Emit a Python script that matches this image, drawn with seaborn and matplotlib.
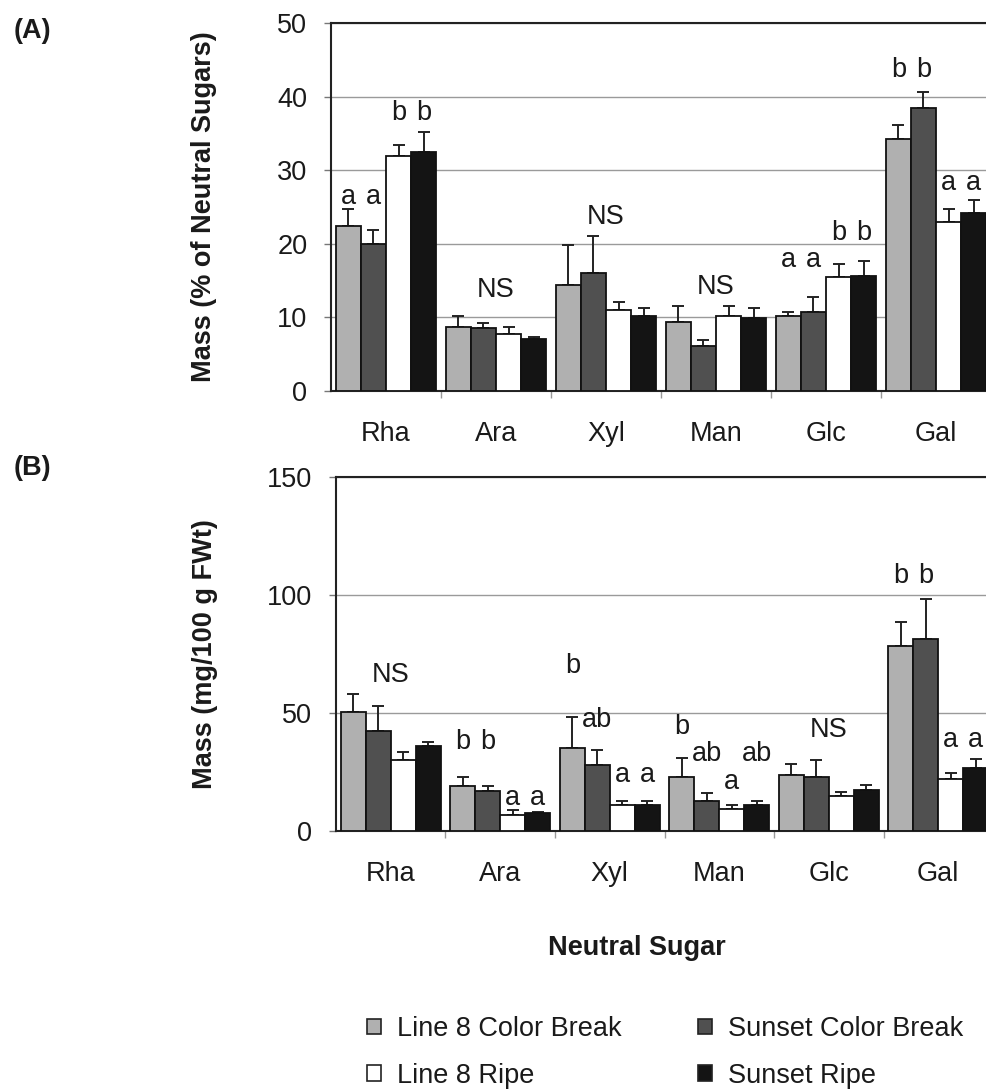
import numpy as np
import pandas as pd
import matplotlib
matplotlib.use("Agg")
import matplotlib.pyplot as plt
from matplotlib.patches import Patch
from matplotlib.container import BarContainer
import seaborn as sns

sns.set_style("white")
plt.rcParams['font.family'] = ['Liberation Sans', 'DejaVu Sans']

# ---------------- data ----------------
sugars = ["Rha", "Ara", "Xyl", "Man", "Glc", "Gal"]
series = ["Line 8 Color Break", "Sunset Color Break", "Line 8 Ripe", "Sunset Ripe"]

# Panel A: % of neutral sugars
l8cb_a = [22.4, 8.7, 14.4, 9.4, 10.1, 34.3]
scb_a = [19.9, 8.5, 16.0, 6.1, 10.7, 38.5]
l8r_a = [31.9, 7.7, 11.0, 10.1, 15.5, 23.0]
sr_a = [32.5, 7.1, 10.2, 9.9, 15.6, 24.2]
l8cb_a_err = [2.3, 1.5, 5.4, 2.1, 0.6, 1.8]
scb_a_err = [2.0, 0.7, 5.1, 0.8, 2.0, 2.2]
l8r_a_err = [1.5, 1.0, 1.05, 1.4, 1.8, 1.7]
sr_a_err = [2.7, 0.2, 1.0, 1.3, 2.0, 1.8]

# Panel B: mg/100 g FWt
l8cb_b = [50.5, 18.9, 35.1, 23.0, 23.8, 78.2]
scb_b = [42.4, 16.8, 28.0, 12.5, 22.8, 81.4]
l8r_b = [30.2, 6.8, 10.7, 9.2, 14.9, 22.1]
sr_b = [36.0, 7.4, 11.0, 11.0, 17.4, 26.8]
l8cb_b_err = [7.4, 4.1, 13.3, 8.0, 4.4, 10.3]
scb_b_err = [10.7, 2.1, 6.1, 3.4, 7.4, 16.8]
l8r_b_err = [3.2, 2.0, 1.8, 1.8, 1.7, 2.4]
sr_b_err = [1.7, 0.5, 1.5, 1.5, 2.2, 3.8]

# significance letters: (sugar, series index or None for group centre, text, y)
letters_a = [
    ("Rha", 0, "a", 26.4), ("Rha", 1, "a", 26.4), ("Rha", 2, "b", 37.8), ("Rha", 3, "b", 37.8),
    ("Ara", None, "NS", 13.7),
    ("Xyl", None, "NS", 23.7),
    ("Man", None, "NS", 14.1),
    ("Glc", 0, "a", 17.8), ("Glc", 1, "a", 17.8), ("Glc", 2, "b", 21.5), ("Glc", 3, "b", 21.5),
    ("Gal", 0, "b", 43.6), ("Gal", 1, "b", 43.6), ("Gal", 2, "a", 28.3), ("Gal", 3, "a", 28.3),
]
letters_b = [
    ("Rha", None, "NS", 66.2),
    ("Ara", 0, "b", 37.7), ("Ara", 1, "b", 37.7), ("Ara", 2, "a", 14.0), ("Ara", 3, "a", 14.0),
    ("Xyl", 0, "b", 70.0), ("Xyl", 1, "ab", 47.0), ("Xyl", 2, "a", 23.5), ("Xyl", 3, "a", 23.5),
    ("Man", 0, "b", 44.1), ("Man", 1, "ab", 32.4), ("Man", 2, "a", 20.6), ("Man", 3, "ab", 32.4),
    ("Glc", None, "NS", 42.7),
    ("Gal", 0, "b", 108.0), ("Gal", 1, "b", 108.0), ("Gal", 2, "a", 38.4), ("Gal", 3, "a", 38.4),
]

colors = ["#b0b0b0", "#505050", "#ffffff", "#141414"]
FS = 19.5
TXT = "#1a1a1a"


def make_df(vals, errs):
    rows = []
    for s, v_list, e_list in zip(series, vals, errs):
        for sug, v, e in zip(sugars, v_list, e_list):
            rows.append({"sugar": sug, "series": s, "value": v, "err": e})
    return pd.DataFrame(rows)


df_a = make_df([l8cb_a, scb_a, l8r_a, sr_a], [l8cb_a_err, scb_a_err, l8r_a_err, sr_a_err])
df_b = make_df([l8cb_b, scb_b, l8r_b, sr_b], [l8cb_b_err, scb_b_err, l8r_b_err, sr_b_err])

fig = plt.figure(figsize=(9.87, 10.92), dpi=100)
W, H = 987.0, 1092.0


def px_axes(left, right, top, bottom):
    return fig.add_axes([left / W, 1 - bottom / H, (right - left) / W, (bottom - top) / H])


ax_a = px_axes(331, 991, 23.3, 390.7)
ax_b = px_axes(336, 993, 477.3, 830.7)


def draw(ax, df, ymax, step, ylabel, letters):
    sns.barplot(data=df, x="sugar", y="value", hue="series", order=sugars,
                hue_order=series, palette=colors, edgecolor="#111111", linewidth=1.3,
                width=0.91, gap=0, errorbar=None, legend=False, ax=ax, zorder=3)
    bar_conts = [c for c in ax.containers if isinstance(c, BarContainer)]
    centers = {}
    for hi, cont in enumerate(bar_conts):
        for si, p in enumerate(cont.patches):
            xc = p.get_x() + p.get_width() / 2
            h = p.get_height()
            centers[(sugars[si], hi)] = xc
            sub = df[(df.series == series[hi]) & (df.sugar == sugars[si])]
            e = float(sub["err"].iloc[0])
            ax.errorbar([xc], [h], yerr=[[0], [e]], fmt="none", ecolor="#222222",
                        elinewidth=1.4, capsize=4.5, capthick=1.4, zorder=2)
    for sug, hi, txt, y in letters:
        if hi is None:
            x = sugars.index(sug)
        else:
            x = centers[(sug, hi)]
        ax.text(x, y, txt, ha="center", va="center", fontsize=FS, color=TXT, zorder=5)

    ax.set_xlim(-0.5, 5.5)
    ax.set_ylim(0, ymax)
    ax.set_yticks(np.arange(0, ymax + 1, step))
    ax.yaxis.grid(True, color="#9a9a9a", linewidth=1.0, zorder=0)
    ax.set_axisbelow(True)
    for side in ["left", "top", "bottom"]:
        ax.spines[side].set_visible(True)
        ax.spines[side].set_color("#222222")
        ax.spines[side].set_linewidth(1.5)
    ax.spines["right"].set_visible(False)
    ax.set_xlabel("")
    ax.set_ylabel(ylabel, fontsize=FS, fontweight="bold", color=TXT)
    ax.tick_params(axis="y", which="major", direction="out", length=5, width=1,
                   color="#777777", pad=12, labelsize=FS, labelcolor=TXT, left=True)
    ax.tick_params(axis="x", which="major", length=0, pad=22, labelsize=FS, labelcolor=TXT)
    ax.set_xticks(np.arange(0.5, 5.5, 1.0), minor=True)
    ax.tick_params(axis="x", which="minor", direction="out", length=5, width=1,
                   color="#999999", bottom=True)


draw(ax_a, df_a, 50, 10, "Mass (% of Neutral Sugars)", letters_a)
draw(ax_b, df_b, 150, 50, "Mass (mg/100 g FWt)", letters_b)
ax_a.yaxis.set_label_coords((217 - 331) / 660.0, 0.5)
ax_b.yaxis.set_label_coords((218 - 336) / 657.0, 0.5)

fig.text(32 / W, 1 - 31 / H, "(A)", fontsize=FS, fontweight="bold", color=TXT,
         ha="center", va="center")
fig.text(32 / W, 1 - 468 / H, "(B)", fontsize=FS, fontweight="bold", color=TXT,
         ha="center", va="center")
fig.text(637 / W, 1 - 948 / H, "Neutral Sugar", fontsize=FS, fontweight="bold",
         color=TXT, ha="center", va="center")

handles = [Patch(facecolor=c, edgecolor="#222222", linewidth=1.2) for c in colors]
order = [0, 2, 1, 3]
fig.legend([handles[i] for i in order], [series[i] for i in order], ncol=2,
           loc="upper left", bbox_to_anchor=(367 / W, 1 - 1016 / H), frameon=False,
           fontsize=FS, handlelength=0.52, handleheight=0.52, handletextpad=0.6,
           columnspacing=2.8, labelspacing=0.77, borderpad=0, borderaxespad=0,
           labelcolor=TXT)

fig.savefig("out.png", dpi=100, facecolor="white")
